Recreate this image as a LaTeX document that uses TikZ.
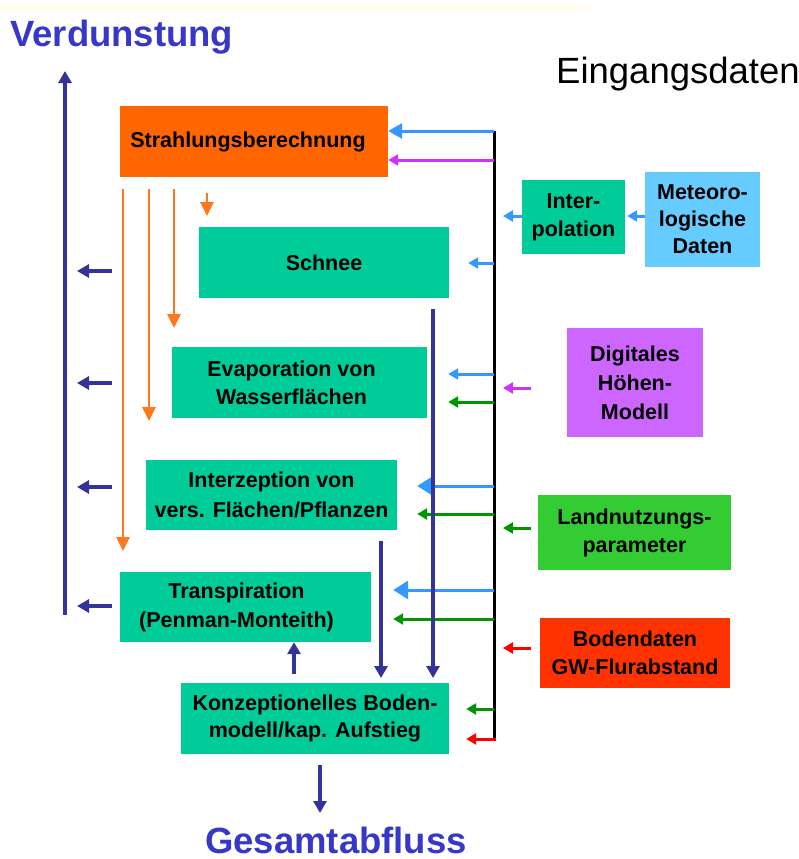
\documentclass[tikz,border=0pt]{standalone}
\usepackage{fontspec}
\setmainfont{Liberation Sans}
\usetikzlibrary{arrows.meta}
\definecolor{orng}{RGB}{255,102,0}
\definecolor{orarr}{RGB}{255,120,30}
\definecolor{teal1}{RGB}{0,204,153}
\definecolor{skyb}{RGB}{102,204,255}
\definecolor{violetb}{RGB}{204,102,255}
\definecolor{greenb}{RGB}{51,204,51}
\definecolor{redb}{RGB}{255,51,0}
\definecolor{navy1}{RGB}{51,51,153}
\definecolor{titleblue}{RGB}{55,55,200}
\definecolor{lblue}{RGB}{51,153,255}
\definecolor{magarr}{RGB}{204,51,255}
\definecolor{greenarr}{RGB}{0,150,0}
\definecolor{redarr}{RGB}{255,0,0}
\definecolor{faint}{RGB}{255,254,238}
\begin{document}
\begin{tikzpicture}[x=1pt,y=-1pt,
  box/.style={rectangle, inner sep=0pt, align=center, text=black,
    font=\fontsize{21.5}{28}\selectfont\bfseries},
  navyarr/.style={draw=navy1, line width=3.5pt, -{Triangle[length=12pt,width=13pt]}},
  orarrow/.style={draw=orarr, line width=2.8pt, -{Triangle[length=14pt,width=13pt]}},
  inarr/.style={line width=3pt, -{Triangle[length=10pt,width=11pt]}},
  bigarr/.style={line width=3pt, -{Triangle[length=15pt,width=18pt]}},
  bigtitle/.style={inner sep=0pt, text=titleblue, font=\fontsize{36.5}{40}\selectfont\bfseries}
]
\useasboundingbox (0,0) rectangle (799,859);
\fill[faint] (0,4) rectangle (590,12);

% titles
\node[bigtitle, anchor=base west] (verd) at (10,47) {Verdunstung};
\node[bigtitle, anchor=base west] (gesamt) at (205,853) {Gesamtabfluss};
\node[inner sep=0pt, anchor=base west, font=\fontsize{36.5}{40}\selectfont] (eing) at (556,83) {Eingangsdaten};

% boxes
\node[box, fill=orng, minimum width=268pt, minimum height=71pt] (strahl) at (254,141.5) {\hspace*{-12pt}Strahlungsberechnung};
\node[box, fill=teal1, minimum width=250pt, minimum height=71pt] (schnee) at (324,262.5) {Schnee};
\node[box, fill=teal1, minimum width=103pt, minimum height=74pt] (interp) at (573.5,217) {Inter-\\polation};
\node[box, fill=skyb, minimum width=115pt, minimum height=95pt, font=\fontsize{21.5}{27}\selectfont\bfseries] (meteo) at (702.5,219.5) {Meteoro-\\logische\\Daten};
\node[box, fill=teal1, minimum width=255pt, minimum height=71pt] (evap) at (299.5,382.5) {\hspace*{-16pt}Evaporation von\\\hspace*{-16pt}Wasserflächen};
\node[box, fill=violetb, minimum width=136pt, minimum height=109pt, font=\fontsize{21.5}{29}\selectfont\bfseries] (dgm) at (635,382.5) {Digitales\\Höhen-\\Modell};
\node[box, fill=teal1, minimum width=251pt, minimum height=70pt, font=\fontsize{21.5}{30}\selectfont\bfseries] (interz) at (271.5,495) {Interzeption von\\vers. Flächen/Pflanzen};
\node[box, fill=greenb, minimum width=193pt, minimum height=75pt] (landn) at (634.5,532.5) {Landnutzungs-\\parameter};
\node[box, fill=teal1, minimum width=251pt, minimum height=70pt, font=\fontsize{21.5}{29}\selectfont\bfseries] (transp) at (245.5,607) {\hspace*{-18pt}Transpiration\\\hspace*{-18pt}(Penman-Monteith)};
\node[box, fill=redb, minimum width=190pt, minimum height=70pt] (boden) at (635,653) {Bodendaten\\GW-Flurabstand};
\node[box, fill=teal1, minimum width=268pt, minimum height=71pt, font=\fontsize{21.5}{27}\selectfont\bfseries] (konz) at (315,718.5) {Konzeptionelles Boden-\\modell/kap. Aufstieg};

% input bus
\coordinate (bustop) at (494,131);
\coordinate (busbot) at (494,739);
\draw[black, line width=3pt] (bustop) -- (busbot);

% arrows from bus to model boxes
\draw[inarr, lblue, -{Triangle[length=14pt,width=15pt]}] (bustop) -- (strahl.east |- bustop);
\draw[inarr, magarr] (494,160) -- (strahl.east |- 0,160);
\draw[inarr, lblue] (494,263) -- ([xshift=19pt]schnee.east |- 0,263);
\draw[inarr, lblue] (494,374) -- ([xshift=21pt]evap.east |- 0,374);
\draw[inarr, greenarr] (494,402) -- ([xshift=21pt]evap.east |- 0,402);
\draw[bigarr, lblue] (494,486) -- ([xshift=20pt]interz.east |- 0,486);
\draw[inarr, greenarr] (494,514) -- ([xshift=20pt]interz.east |- 0,514);
\draw[bigarr, lblue] (494,590) -- ([xshift=22pt]transp.east |- 0,590);
\draw[inarr, greenarr] (494,619) -- ([xshift=22pt]transp.east |- 0,619);
\draw[inarr, greenarr] (494,709) -- ([xshift=17pt]konz.east |- 0,709);
\draw[inarr, redarr] ([xshift=1.5pt]busbot) -- ([xshift=17pt]konz.east |- busbot);

% arrows from data sources to bus
\draw[inarr, lblue] (meteo.west |- 0,216) -- ([xshift=2pt]interp.east |- 0,216);
\draw[inarr, lblue] (interp.west |- 0,216) -- (503,216);
\draw[inarr, magarr] (531,388) -- (503,388);
\draw[inarr, greenarr] (531,528) -- (503,528);
\draw[inarr, redarr] (531,648) -- (503,648);

% radiation to processes
\draw[orarrow] (123,189) -- (123,551);
\draw[orarrow] (149,189) -- (149,421);
\draw[orarrow] (174,189) -- (174,328);
\draw[orarrow] (207,193) -- (207,216);

% evaporation outputs
\coordinate (vbot) at (65,615);
\coordinate (vtop) at (65,71);
\draw[navyarr] (vbot) -- (vtop);
\draw[navyarr] (112,271) -- (77,271);
\draw[navyarr] (112,383) -- (77,383);
\draw[navyarr] (112,487) -- (77,487);
\draw[navyarr] (112,606) -- (77,606);

% flows to soil model
\draw[navyarr] (433,309) -- (433,678);
\draw[navyarr] (381,541) -- (381,678);
\draw[navyarr] (294,674) -- (transp.south -| 294,0);
\draw[navyarr] (konz.south -| 320,0) ++(0,11) -- (320,813);
\end{tikzpicture}
\end{document}
